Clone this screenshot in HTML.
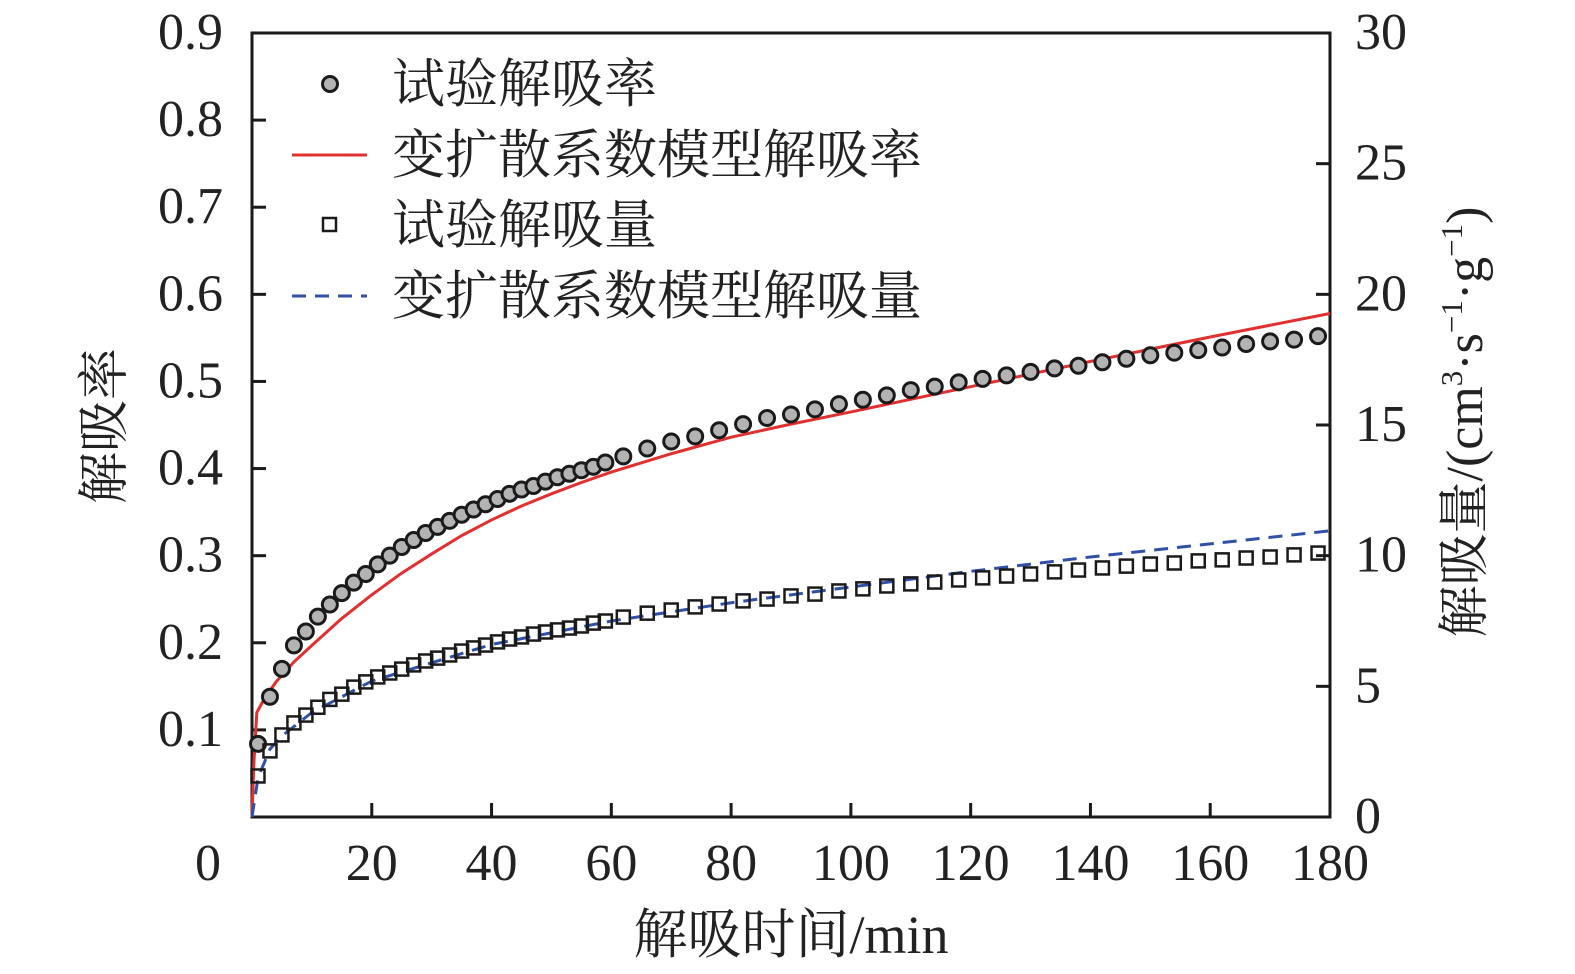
<!DOCTYPE html>
<html><head><meta charset="utf-8"><style>
html,body{margin:0;padding:0;background:#fff;}
svg{display:block;font-family:"Liberation Serif","Noto Serif CJK SC",serif;}
</style></head><body>
<svg id="chart" width="1575" height="974" viewBox="0 0 1575 974">
<g id="axes"></g>
<g id="marks"></g>
<g id="legend">
  <circle cx="330" cy="84" r="7.5" fill="#b3b3b3" stroke="#1a1a1a" stroke-width="3"/>
  <text x="392" y="102" font-size="53" fill="#222">试验解吸率</text>
  <line x1="292" y1="155" x2="367" y2="155" stroke="#e03030" stroke-width="3"/>
  <text x="392" y="173" font-size="53" fill="#222">变扩散系数模型解吸率</text>
  <rect x="323" y="218" width="13" height="13" fill="none" stroke="#1a1a1a" stroke-width="2.5"/>
  <text x="392" y="243" font-size="53" fill="#222">试验解吸量</text>
  <line x1="292" y1="296" x2="367" y2="296" stroke="#3050a8" stroke-width="3" stroke-dasharray="14,9"/>
  <text x="392" y="314" font-size="53" fill="#222">变扩散系数模型解吸量</text>
</g>
<text x="0" y="0" font-size="52" fill="#222" text-anchor="middle" transform="translate(122,426) rotate(-90)">解吸率</text>
<text x="0" y="0" font-size="52" fill="#222" text-anchor="middle" transform="translate(1482,422) rotate(-90)">解吸量/(cm<tspan font-size="31" dy="-20">3</tspan><tspan dy="20">·s</tspan><tspan font-size="31" dy="-20">−1</tspan><tspan dy="20">·g</tspan><tspan font-size="31" dy="-20">−1</tspan><tspan dy="20">)</tspan></text>
<text x="791" y="953" font-size="54" fill="#222" text-anchor="middle">解吸时间/min</text>
</svg>
<script>
const xTicks=[0,20,40,60,80,100,120,140,160,180];
const leftTicks=[0.1,0.2,0.3,0.4,0.5,0.6,0.7,0.8,0.9];
const leftTickLabels=["0.1","0.2","0.3","0.4","0.5","0.6","0.7","0.8","0.9"];
const rightTicks=[0,5,10,15,20,25,30];
const expTimes=[1,3,5,7,9,11,13,15,17,19,21,23,25,27,29,31,33,35,37,39,41,43,45,47,49,51,53,55,57,59,62,66,70,74,78,82,86,90,94,98,102,106,110,114,118,122,126,130,134,138,142,146,150,154,158,162,166,170,174,178];
const expRate=[0.084,0.138,0.170,0.197,0.213,0.230,0.244,0.257,0.269,0.279,0.290,0.300,0.310,0.318,0.326,0.333,0.340,0.347,0.353,0.359,0.365,0.371,0.376,0.380,0.385,0.390,0.394,0.398,0.402,0.407,0.414,0.423,0.431,0.437,0.444,0.451,0.458,0.462,0.468,0.474,0.479,0.484,0.490,0.494,0.499,0.503,0.507,0.511,0.515,0.518,0.522,0.526,0.530,0.533,0.536,0.539,0.543,0.546,0.548,0.552];
const expAmount=[1.57,2.53,3.14,3.60,3.90,4.20,4.50,4.70,4.97,5.17,5.36,5.51,5.66,5.82,5.97,6.08,6.20,6.35,6.47,6.58,6.70,6.81,6.89,7.00,7.08,7.16,7.23,7.31,7.42,7.50,7.65,7.80,7.92,8.04,8.15,8.27,8.34,8.46,8.53,8.65,8.73,8.84,8.92,8.99,9.07,9.15,9.22,9.30,9.38,9.45,9.53,9.60,9.68,9.72,9.80,9.84,9.91,9.95,10.03,10.10];
const modelRateT=[0,0.3,0.8,2,4,7,10,15,20,25,30,35,40,45,50,55,60,70,80,90,100,120,140,160,180];
const modelRate=[0,0.06,0.12,0.135,0.155,0.178,0.197,0.228,0.255,0.28,0.302,0.323,0.341,0.357,0.371,0.384,0.396,0.417,0.436,0.451,0.465,0.494,0.523,0.551,0.578];
const modelAmtT=[0,1,3,5,10,20,40,60,80,100,120,140,160,180];
const modelAmount=[0,1.5,2.6,3.1,4.0,5.2,6.6,7.5,8.2,8.8,9.4,9.95,10.45,10.95];

const X0=252,X1=1330,Y0=817,Y1=33;
const xs=t=>X0+(t/180)*(X1-X0);
const yl=v=>Y0-(v/0.9)*(Y0-Y1);
const yr=v=>Y0-(v/30)*(Y0-Y1);
const NS="http://www.w3.org/2000/svg";
function mk(tag,attrs,parent){const e=document.createElementNS(NS,tag);for(const k in attrs)e.setAttribute(k,attrs[k]);parent.appendChild(e);return e;}
const axes=document.getElementById('axes'),marks=document.getElementById('marks');

const frame=mk('rect',{x:X0,y:Y1,width:X1-X0,height:Y0-Y1,fill:'none',stroke:'#1a1a1a','stroke-width':3},axes);



xTicks.forEach((t,i)=>{
  const x=xs(t);
  if(t>0&&t<180){const l=mk('line',{x1:x,y1:Y0,x2:x,y2:Y0-14,stroke:'#1a1a1a','stroke-width':3},axes);
  
  }
  const tx=mk('text',{x:t===0?208:x,y:880,'font-size':52,fill:'#222','text-anchor':'middle'},axes);
  tx.textContent=String(t);
  
  
});
leftTicks.forEach((v,i)=>{
  const y=yl(v);
  if(v<0.9){const l=mk('line',{x1:X0,y1:y,x2:X0+14,y2:y,stroke:'#1a1a1a','stroke-width':3},axes);
  
  }
  const tx=mk('text',{x:223,y:y+16,'font-size':52,fill:'#222','text-anchor':'end'},axes);
  tx.textContent=leftTickLabels[i];
  
  
});
rightTicks.forEach(v=>{
  const y=yr(v);
  if(v>0&&v<30){const l=mk('line',{x1:X1,y1:y,x2:X1-14,y2:y,stroke:'#1a1a1a','stroke-width':3},axes);
  
  }
  const tx=mk('text',{x:1355,y:y+16,'font-size':52,fill:'#222','text-anchor':'start'},axes);
  tx.textContent=String(v);
  
  
});

const rp=mk('polyline',{points:modelRateT.map((t,i)=>xs(t)+','+yl(modelRate[i])).join(' '),fill:'none',stroke:'#e03030','stroke-width':3,'stroke-linejoin':'round'},marks);


const ap=mk('polyline',{points:modelAmtT.map((t,i)=>xs(t)+','+yr(modelAmount[i])).join(' '),fill:'none',stroke:'#3050a8','stroke-width':3,'stroke-dasharray':'14,9'},marks);



expTimes.forEach((t,i)=>{
  const c=mk('circle',{cx:xs(t),cy:yl(expRate[i]),r:7.5,fill:'#b3b3b3',stroke:'#1a1a1a','stroke-width':3},marks);
  
  
  const s=mk('rect',{x:xs(t)-6.5,y:yr(expAmount[i])-6.5,width:13,height:13,fill:'none',stroke:'#1a1a1a','stroke-width':2.5},marks);
  
  
});
</script>
</body></html>
